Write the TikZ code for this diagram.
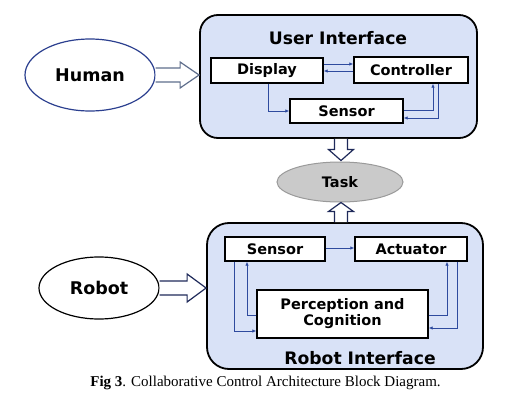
\documentclass[tikz,border=0pt]{standalone}
\usepackage{fontspec}
\setmainfont{Liberation Serif}
\newfontfamily\lblfont{DejaVu Sans}
\usetikzlibrary{calc,arrows.meta,shapes.geometric}
\definecolor{panelblue}{HTML}{D9E2F7}
\definecolor{linkblue}{HTML}{2E4A9E}
\definecolor{humanblue}{HTML}{2B3F8F}
\definecolor{navy}{HTML}{1F2A5A}
\definecolor{grayarrow}{HTML}{5F6E8C}
\definecolor{taskgray}{HTML}{CACACA}
\definecolor{taskedge}{HTML}{9A9A9A}
\tikzset{
  panel/.style={draw=black,line width=1.8pt,fill=panelblue,rounded corners=18pt,inner sep=0pt},
  block/.style={draw=black,line width=1.4pt,fill=white,inner sep=0pt,align=center,
    font=\lblfont\bfseries\fontsize{14.5}{16}\selectfont},
  agent/.style={ellipse,draw,line width=1.2pt,fill=white,inner sep=0pt,
    font=\lblfont\bfseries\fontsize{17.5}{20}\selectfont},
  title/.style={font=\lblfont\bfseries\fontsize{17.2}{20}\selectfont,inner sep=0pt},
  link/.style={draw=linkblue,line width=0.9pt,-{Latex[length=4pt,width=3.5pt]}},
  hollow/.style={fill=white,line width=1.2pt,line join=miter}
}
\begin{document}
\begin{tikzpicture}[x=1pt,y=-1pt]
\useasboundingbox (0,0) rectangle (507,410);
% panels
\node[panel,minimum width=277pt,minimum height=123pt] (ui) at (338.5,76.5) {};
\node[panel,rounded corners=22pt,minimum width=276pt,minimum height=146pt] (rb) at (345,296) {};
\node[title] (uit) at (338,38) {User Interface};
\node[title] (rbt) at (360,358) {Robot Interface};
% UI blocks
\node[block,minimum width=112pt,minimum height=25pt] (disp) at (267,70.5) {Display};
\node[block,minimum width=114pt,minimum height=26pt] (ctrl) at (411,70) {Controller};
\node[block,minimum width=113pt,minimum height=24pt] (usen) at (346.5,111) {Sensor};
% Robot blocks
\node[block,minimum width=100pt,minimum height=24pt] (rsen) at (275,249) {Sensor};
\node[block,minimum width=112pt,minimum height=24pt] (act) at (411,249) {Actuator};
\node[block,minimum width=171pt,minimum height=48pt] (perc) at (342.5,314) {Perception and\\Cognition};
% agents
\node[agent,draw=humanblue,minimum width=130pt,minimum height=72pt] (hum) at (90,75) {Human};
\node[agent,draw=black,minimum width=120pt,minimum height=62pt] (rob) at (99,288) {Robot};
\node[ellipse,draw=taskedge,line width=1pt,fill=taskgray,minimum width=126pt,minimum height=40pt,inner sep=0pt,
  font=\lblfont\bfseries\fontsize{14.5}{16}\selectfont] (task) at (340,182) {Task};
% caption
\node[anchor=base,inner sep=0pt,font=\fontsize{15}{18}\selectfont] (cap) at (265.5,386) {\textbf{Fig 3}. Collaborative Control Architecture Block Diagram.};
% UI links
\draw[link] ($(disp.east)+(0,-6.5)$) -- ($(ctrl.west)+(0,-6)$);
\draw[link] ($(ctrl.west)+(0,1)$) -- ($(disp.east)+(0,0.5)$);
\draw[link] ($(disp.south)+(1,0)$) |- (usen.west);
\draw[link] ($(usen.east)+(0,-1)$) -| ($(ctrl.south)+(22,0)$);
\draw[link] ($(ctrl.south)+(27,0)$) |- ($(usen.east)+(0,7)$);
% Robot links
\draw[link] ($(rsen.east)+(0,-1)$) -- ($(act.west)+(0,-1)$);
\draw[link] ($(perc.west)+(0,1)$) -| ($(rsen.south)+(-28,0)$);
\draw[link] ($(rsen.south)+(-41,0)$) |- ($(perc.west)+(0,17)$);
\draw[link] ($(perc.east)+(0,1)$) -| ($(act.south)+(36,0)$);
\draw[link] ($(act.south)+(46,0)$) |- ($(perc.east)+(0,14)$);
% hollow block arrows
\coordinate (ht) at (ui.west |- hum.east);
\draw[hollow,draw=grayarrow] ($(hum.east)+(0,-7)$) -- ($(ht)+(-19,-7)$) -- ($(ht)+(-19,-13)$) -- (ht)
  -- ($(ht)+(-19,13)$) -- ($(ht)+(-19,7)$) -- ($(hum.east)+(0,7)$);
\coordinate (rt) at (rb.west |- rob.east);
\draw[hollow,draw=navy] ($(rob.east)+(0,-7)$) -- ($(rt)+(-19,-7)$) -- ($(rt)+(-19,-14)$) -- (rt)
  -- ($(rt)+(-19,14)$) -- ($(rt)+(-19,7)$) -- ($(rob.east)+(0,7)$);
\coordinate (tt) at ($(task.north)+(1,-1)$);
\coordinate (ut) at (tt |- ui.south);
\draw[hollow,draw=navy] ($(ut)+(-6.5,0)$) -- ($(tt)+(-6.5,-11)$) -- ($(tt)+(-12.5,-11)$) -- (tt)
  -- ($(tt)+(12.5,-11)$) -- ($(tt)+(6.5,-11)$) -- ($(ut)+(6.5,0)$);
\coordinate (bt) at ($(task.south)+(1,0)$);
\coordinate (rbt2) at (bt |- rb.north);
\draw[hollow,draw=navy] ($(rbt2)+(-6.5,0)$) -- ($(bt)+(-6.5,9)$) -- ($(bt)+(-12.5,9)$) -- (bt)
  -- ($(bt)+(12.5,9)$) -- ($(bt)+(6.5,9)$) -- ($(rbt2)+(6.5,0)$);
\end{tikzpicture}
\end{document}
